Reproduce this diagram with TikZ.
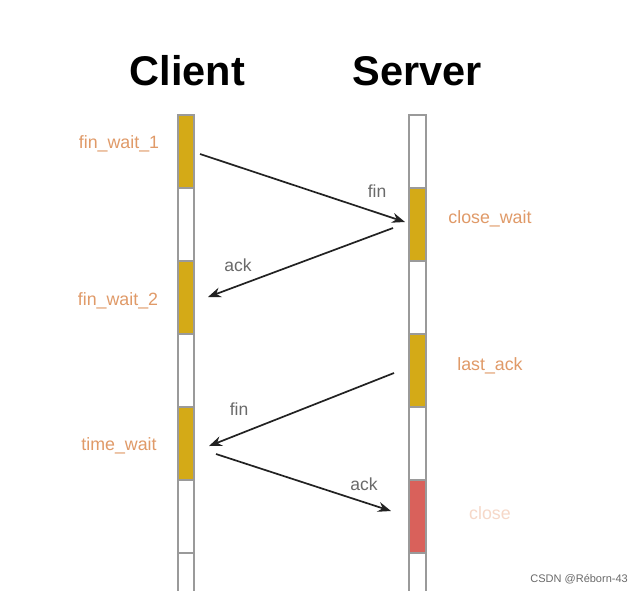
\documentclass[tikz,border=0pt]{standalone}
\usepackage{fontspec}
\setmainfont{Liberation Sans}
\usetikzlibrary{arrows.meta}
\definecolor{segyellow}{HTML}{D4AA17}
\definecolor{segred}{HTML}{D9615B}
\definecolor{segedge}{HTML}{9A9A9A}
\definecolor{statetxt}{HTML}{E09A68}
\definecolor{paletxt}{HTML}{F6D8C8}
\definecolor{msgtxt}{HTML}{6A6A6A}
\definecolor{arrowcol}{HTML}{222222}
\tikzset{
  seg/.style={draw=segedge, line width=1.6pt, inner sep=0pt, outer sep=0pt},
  title/.style={font=\fontsize{41.5}{41.5}\selectfont\bfseries, anchor=base, inner sep=0pt},
  state/.style={font=\fontsize{17.8}{17.8}\selectfont, text=statetxt, anchor=base, inner sep=0pt},
  msg/.style={font=\fontsize{17.5}{17.5}\selectfont, text=msgtxt, anchor=base, inner sep=0pt},
  msgarrow/.style={draw=arrowcol, line width=1.7pt, -{Stealth[length=13pt,width=10pt]}},
}
\begin{document}
\begin{tikzpicture}[x=1pt,y=-1pt]
\useasboundingbox[fill=white] (0,0) rectangle (634,590);
% titles
\node[title] (client) at (187.5,85) {Client};
\node[title] (server) at (417.5,85) {Server};
% client bar segments
\foreach \i/\c in {0/segyellow,1/white,2/segyellow,3/white,4/segyellow,5/white}{
  \pgfmathsetmacro{\ytop}{115+73*\i}
  \pgfmathsetmacro{\ybot}{115+73*(\i+1)}
  \path[seg, fill=\c] (178,\ytop) rectangle (194,\ybot);
}
\draw[segedge, line width=1.6pt] (178,553) -- (178,592) (194,553) -- (194,592);
% server bar segments
\foreach \i/\c in {0/white,1/segyellow,2/white,3/segyellow,4/white,5/segred}{
  \pgfmathsetmacro{\ytop}{115+73*\i}
  \pgfmathsetmacro{\ybot}{115+73*(\i+1)}
  \path[seg, fill=\c] (409,\ytop) rectangle (426,\ybot);
}
\draw[segedge, line width=1.6pt] (409,553) -- (409,592) (426,553) -- (426,592);
% state labels
\node[state] (fw1) at (119,148) {fin\_wait\_1};
\node[state] (fw2) at (118,305) {fin\_wait\_2};
\node[state] (tw) at (119,450) {time\_wait};
\node[state] (cw) at (490,223) {close\_wait};
\node[state] (la) at (490,370) {last\_ack};
\node[state, text=paletxt] (cl) at (490,519) {close};
% message endpoints
\coordinate (m1s) at (200,154);
\coordinate (m1e) at (405,222);
\coordinate (m2s) at (393,228);
\coordinate (m2e) at (208,297);
\coordinate (m3s) at (394,373);
\coordinate (m3e) at (209,446);
\coordinate (m4s) at (216,454);
\coordinate (m4e) at (391,511);
\draw[msgarrow] (m1s) -- (m1e);
\draw[msgarrow] (m2s) -- (m2e);
\draw[msgarrow] (m3s) -- (m3e);
\draw[msgarrow] (m4s) -- (m4e);
% message labels
\node[msg] (l1) at (377,197) {fin};
\node[msg] (l2) at (238,271) {ack};
\node[msg] (l3) at (239,415) {fin};
\node[msg] (l4) at (364,490) {ack};
% watermark
\node[font=\fontsize{11}{11}\selectfont, text=msgtxt, anchor=base east, inner sep=0pt] (wm) at (628,582) {CSDN @Réborn-43};
\end{tikzpicture}
\end{document}
